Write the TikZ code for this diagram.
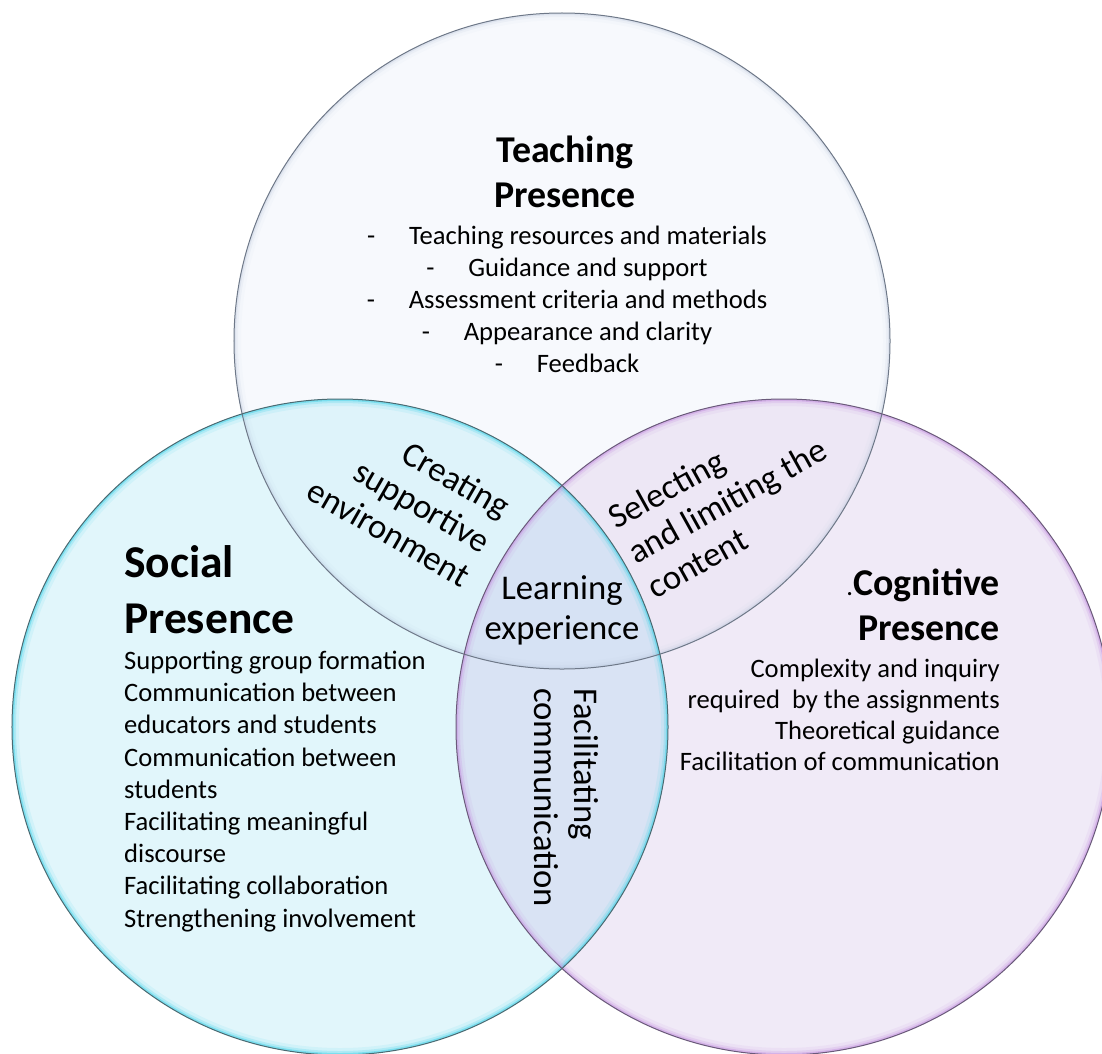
\documentclass[tikz,border=0pt]{standalone}
\usepackage{fontspec}
\setmainfont{Carlito}
\definecolor{Tfill}{HTML}{F7F9FD}
\definecolor{Sfill}{HTML}{E1F6FB}
\definecolor{Cfill}{HTML}{F0EAF7}
\definecolor{TSfill}{HTML}{DEF3FA}
\definecolor{TCfill}{HTML}{EDE7F5}
\definecolor{SCfill}{HTML}{D9E3F4}
\definecolor{TSCfill}{HTML}{D6E2F4}
\definecolor{Tedge}{HTML}{6E7888}
\definecolor{Sedge}{HTML}{4A6A72}
\definecolor{Cedge}{HTML}{6A5A7A}
\definecolor{Tglow}{HTML}{B8C6DC}
\definecolor{Sglow}{HTML}{3CD2E8}
\definecolor{Cglow}{HTML}{C490E0}
\begin{document}
\begin{tikzpicture}[x=1bp,y=-1bp,
  body/.style={font=\fontsize{26.7}{32}\selectfont, inner sep=0pt},
  headbig/.style={font=\fontsize{45.7}{55}\selectfont\bfseries, inner sep=0pt},
  head/.style={font=\fontsize{38}{45}\selectfont\bfseries, inner sep=0pt},
  lap/.style={font=\fontsize{34.8}{40}\selectfont, inner sep=0pt},
  outline/.style={line width=1bp}]
\useasboundingbox (0,0) rectangle (1102,1054);
\fill[white] (0,0) rectangle (1102,1054);
\coordinate (cT) at (562,341);
\coordinate (cS) at (340,727);
\coordinate (cC) at (784,727);
\def\R{328bp}
% base fills
\fill[Tfill] (cT) circle[radius=\R];
\fill[Sfill] (cS) circle[radius=\R];
\fill[Cfill] (cC) circle[radius=\R];
% S and C overlap
\begin{scope}
  \clip (cS) circle[radius=\R];
  \fill[SCfill] (cC) circle[radius=\R];
\end{scope}
% overlaps with T
\begin{scope}
  \clip (cT) circle[radius=\R];
  \fill[TSfill] (cS) circle[radius=\R];
  \fill[TCfill] (cC) circle[radius=\R];
  \clip (cS) circle[radius=\R];
  \fill[TSCfill] (cC) circle[radius=\R];
\end{scope}
% glows
\foreach \c/\g/\k in {cT/Tglow/0.6, cS/Sglow/1, cC/Cglow/1}{
  \begin{scope}
    \clip (\c) circle[radius=\R];
    \draw[\g, line width=14bp, opacity=0.1*\k] (\c) circle[radius=\R];
    \draw[\g, line width=8bp, opacity=0.22*\k] (\c) circle[radius=\R];
    \draw[\g, line width=4bp, opacity=0.45*\k] (\c) circle[radius=\R];
  \end{scope}
}
% outlines
\draw[outline, Tedge] (cT) circle[radius=\R];
\draw[outline, Sedge] (cS) circle[radius=\R];
\draw[outline, Cedge] (cC) circle[radius=\R];

% Teaching presence
\node[head, anchor=base] (th1) at (565,162) {Teaching};
\node[head, anchor=base] (th2) at (565,207) {Presence};
\node[body, anchor=base] (t1) at (567,244) {\makebox[42bp][l]{-}Teaching resources and materials};
\node[body, anchor=base] (t2) at (567,276) {\makebox[42bp][l]{-}Guidance and support};
\node[body, anchor=base] (t3) at (567,308) {\makebox[42bp][l]{-}Assessment criteria and methods};
\node[body, anchor=base] (t4) at (567,340) {\makebox[42bp][l]{-}Appearance and clarity};
\node[body, anchor=base] (t5) at (567,372) {\makebox[42bp][l]{-}Feedback};

% Social presence
\node[headbig, anchor=base west] (sh1) at (124,577) {Social};
\node[headbig, anchor=base west] (sh2) at (124,633) {Presence};
\node[body, anchor=base west] (s1) at (124,669) {Supporting group formation};
\node[body, anchor=base west] (s2) at (124,701) {Communication between};
\node[body, anchor=base west] (s3) at (124,733) {educators and students};
\node[body, anchor=base west] (s4) at (124,766) {Communication between};
\node[body, anchor=base west] (s5) at (124,798) {students};
\node[body, anchor=base west] (s6) at (124,830) {Facilitating meaningful};
\node[body, anchor=base west] (s7) at (124,862) {discourse};
\node[body, anchor=base west] (s8) at (124,894) {Facilitating collaboration};
\node[body, anchor=base west] (s9) at (124,927) {Strengthening involvement};

% Cognitive presence
\node[head, anchor=base east] (ch1) at (1000,595) {{\mdseries\fontsize{26.7}{32}\selectfont .}Cognitive};
\node[head, anchor=base east] (ch2) at (1000,640) {Presence};
\node[body, anchor=base east] (c1) at (1000,677) {Complexity and inquiry};
\node[body, anchor=base east] (c2) at (1000,708) {required\ \ by the assignments};
\node[body, anchor=base east] (c3) at (1000,739) {Theoretical guidance};
\node[body, anchor=base east] (c4) at (1000,770) {Facilitation of communication};

% Learning experience
\node[lap, align=center] (le) at (562,610) {Learning\\experience};

% Creating supportive environment
\begin{scope}[shift={(482,553)}, rotate=-30]
  \node[lap, align=right, anchor=east, transform shape] (cr) at (0,-11) {Creating\\supportive\\environment};
\end{scope}

% Selecting and limiting the content
\begin{scope}[shift={(636,565)}, rotate=29]
  \node[lap, align=left, anchor=west, transform shape] (se) at (0,-12) {Selecting\\and limiting the\\content};
\end{scope}

% Facilitating communication
\begin{scope}[shift={(575,688)}, rotate=-90]
  \node[lap, align=left, anchor=west, transform shape] (fc) at (0,9) {Facilitating\\communication};
\end{scope}
\end{tikzpicture}
\end{document}
